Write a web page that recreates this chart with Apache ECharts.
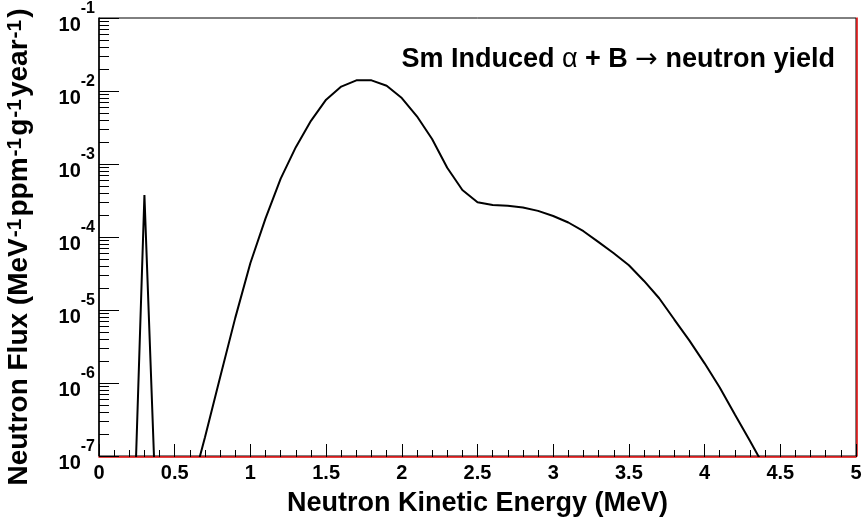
<!DOCTYPE html>
<html><head><meta charset="utf-8">
<script src="https://cdn.jsdelivr.net/npm/echarts@6/dist/echarts.min.js"></script>
<style>html,body{margin:0;padding:0;background:#fff}#c{width:864px;height:525px}</style>
</head><body><div id="c"></div>
<script>
// ---- data ----
const spikeEnergy = [0.2, 0.3, 0.4];
const spikeFlux = [1.2e-10, 3.75e-4, 8e-10];

const mainEnergy = [0.6,0.7,0.8,0.9,1.0,1.1,1.2,1.3,1.4,1.5,1.6,1.7,1.8,1.9,2.0,2.1,2.2,2.3,2.4,2.5,
  2.6,2.7,2.8,2.9,3.0,3.1,3.2,3.3,3.4,3.5,3.6,3.7,3.8,3.9,4.0,4.1,4.2,4.3,4.4];
const mainFlux = [3e-8,1.8e-7,1.2e-6,7.8e-6,4.4e-5,1.8e-4,6.3e-4,1.7e-3,3.9e-3,7.6e-3,
  1.15e-2,1.40e-2,1.40e-2,1.18e-2,8.0e-3,4.5e-3,2.2e-3,8.9e-4,4.4e-4,3.0e-4,
  2.75e-4,2.67e-4,2.54e-4,2.28e-4,1.94e-4,1.58e-4,1.2e-4,8.5e-5,6.0e-5,4.1e-5,
  2.5e-5,1.45e-5,7.4e-6,3.8e-6,1.86e-6,8.7e-7,3.7e-7,1.6e-7,6.8e-8];

const xTickLabels = ['0','0.5','1','1.5','2','2.5','3','3.5','4','4.5','5'];
const yDecades = [-7,-6,-5,-4,-3,-2,-1];

// ---- tick values ----
const majorY = yDecades.map(d => Math.pow(10, d));
const minorY = [];
for (let i = 0; i < yDecades.length - 1; i++) {
  for (let m = 2; m <= 9; m++) minorY.push(m * Math.pow(10, yDecades[i]));
}

const FONT = '"Liberation Sans", Arial, Helvetica, sans-serif';
const SYM = '"DejaVu Sans", "Liberation Sans", sans-serif';
const chart = echarts.init(document.getElementById('c'), null, {renderer: 'canvas'});

chart.setOption({
  animation: false,
  backgroundColor: '#fff',
  title: {
    text: '{a|Sm Induced }{g|α}{a| + B }{r|→}{a| neutron yield}',
    right: 29, top: 46, padding: 0,
    textStyle: {
      rich: {
        a: {fontFamily: FONT, fontWeight: 'bold', fontSize: 27, color: '#000'},
        g: {fontFamily: FONT, fontWeight: 'normal', fontSize: 27, color: '#000'},
        r: {fontFamily: SYM, fontWeight: 'normal', fontSize: 27, color: '#000'}
      }
    }
  },
  grid: {left: 99, right: 8, top: 18, bottom: 69, outerBoundsMode: 'none', containLabel: false,
    show: true, borderColor: '#000', borderWidth: 1, backgroundColor: 'transparent'},
  xAxis: {
    type: 'value', min: 0, max: 5, interval: 0.5,
    offset: 1,
    name: 'Neutron Kinetic Energy (MeV)',
    nameLocation: 'middle', nameGap: 33,
    nameTextStyle: {fontFamily: FONT, fontWeight: 'bold', fontSize: 27, color: '#000'},
    axisLine: {show: true, lineStyle: {color: '#e00000', width: 1.5}},
    axisTick: {show: true, inside: true, length: 13, lineStyle: {color: '#000', width: 1}},
    minorTick: {show: true, splitNumber: 5, length: 7, lineStyle: {color: '#000', width: 1}},
    axisLabel: {
      fontFamily: FONT, fontWeight: 'bold', fontSize: 20, color: '#000', margin: 6,
      formatter: (v) => xTickLabels[Math.round(v / 0.5)]
    },
    splitLine: {show: false}, minorSplitLine: {show: false}
  },
  yAxis: [{
    type: 'log', logBase: 10, min: 1e-7, max: 1e-1,
    position: 'left',
    name: '{t|Neutron Flux (MeV}{s|-1}{t|ppm}{s|-1}{t|g}{s|-1}{t|year}{s|-1}{t|)}',
    nameLocation: 'middle', nameGap: 66, nameRotate: 90,
    nameTextStyle: {
      padding: [0, 20, 0, 0],
      rich: {
        t: {fontFamily: FONT, fontWeight: 'bold', fontSize: 28, color: '#000', verticalAlign: 'bottom'},
        s: {fontFamily: FONT, fontWeight: 'bold', fontSize: 21, color: '#000', verticalAlign: 'top', padding: [0, 2, 0, 1]}
      }
    },
    axisLine: {show: true, lineStyle: {color: '#000', width: 1.5}},
    axisTick: {show: true, inside: true, length: 20, customValues: majorY, lineStyle: {color: '#000', width: 1}},
    axisLabel: {
      customValues: majorY, margin: 4,
      formatter: (v) => '{b|10}{s|' + Math.round(Math.log10(v)) + '}',
      rich: {
        b: {fontFamily: FONT, fontWeight: 'bold', fontSize: 20, color: '#000', verticalAlign: 'bottom', padding: [14, 0, 0, 0]},
        s: {fontFamily: FONT, fontWeight: 'bold', fontSize: 16, color: '#000', verticalAlign: 'top'}
      }
    },
    splitLine: {show: false}
  }, {
    type: 'log', logBase: 10, min: 1e-7, max: 1e-1,
    position: 'left',
    axisLine: {show: false},
    axisTick: {show: true, inside: true, length: 10, customValues: minorY, lineStyle: {color: '#000', width: 1}},
    axisLabel: {show: false},
    splitLine: {show: false}
  }, {
    type: 'log', logBase: 10, min: 1e-7, max: 1e-1,
    position: 'right', offset: 1,
    axisLine: {show: true, lineStyle: {color: '#e00000', width: 1.5}},
    axisTick: {show: false}, axisLabel: {show: false}, splitLine: {show: false}
  }],
  series: [{
    name: 'spike', type: 'line', yAxisIndex: 0, clip: true,
    data: spikeEnergy.map((e, i) => [e, spikeFlux[i]]),
    showSymbol: false, symbol: 'none',
    lineStyle: {color: '#000', width: 2}
  }, {
    name: 'main', type: 'line', yAxisIndex: 0, clip: true,
    data: mainEnergy.map((e, i) => [e, mainFlux[i]]),
    showSymbol: false, symbol: 'none',
    lineStyle: {color: '#000', width: 2}
  }]
});
</script>
</body></html>
